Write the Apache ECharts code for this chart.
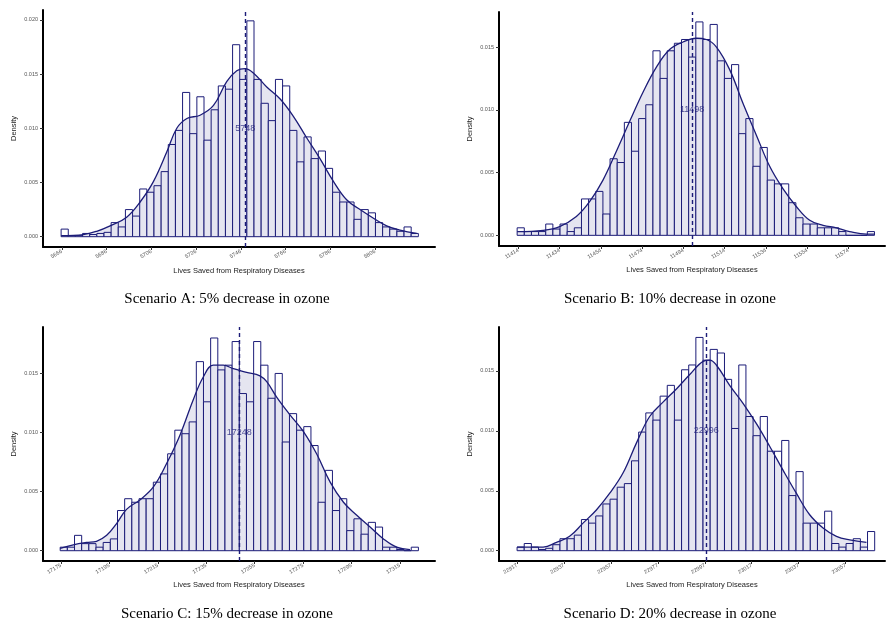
<!DOCTYPE html>
<html>
<head>
<meta charset="utf-8">
<script src="https://cdn.jsdelivr.net/npm/echarts@6/dist/echarts.min.js"></script>
<style>
  html, body { margin: 0; padding: 0; background: #fff; }
  #chart { width: 886px; height: 621px; }
</style>
</head>
<body>
<div id="chart"></div>
<script>
// histogram densities, 50 bins per scenario
const densA = [0.0007, 0.0001, 0.0001, 0.0003, 0.0002, 0.0003, 0.0004, 0.0013, 0.0009, 0.0025,
  0.0019, 0.0044, 0.0041, 0.0047, 0.0060, 0.0085, 0.0098, 0.0133, 0.0095, 0.0129,
  0.0089, 0.0117, 0.0139, 0.0136, 0.0177, 0.0145, 0.0199, 0.0145, 0.0123, 0.0107,
  0.0145, 0.0139, 0.0098, 0.0069, 0.0092, 0.0072, 0.0079, 0.0063, 0.0041, 0.0032,
  0.0032, 0.0016, 0.0025, 0.0022, 0.0013, 0.0009, 0.0007, 0.0005, 0.0009, 0.0003]
const densB = [0.0006, 0.0003, 0.0003, 0.0003, 0.0009, 0.0005, 0.0009, 0.0003, 0.0006, 0.0029,
  0.0029, 0.0035, 0.0017, 0.0061, 0.0058, 0.0090, 0.0067, 0.0093, 0.0104, 0.0147,
  0.0125, 0.0147, 0.0153, 0.0156, 0.0142, 0.0170, 0.0156, 0.0168, 0.0139, 0.0125,
  0.0136, 0.0081, 0.0093, 0.0055, 0.0070, 0.0044, 0.0041, 0.0041, 0.0026, 0.0014,
  0.0009, 0.0009, 0.0006, 0.0006, 0.0006, 0.0003, 0, 0, 0, 0.0003]
const densC = [0.0003, 0.0003, 0.0013, 0.0006, 0.0006, 0.0003, 0.0007, 0.0010, 0.0034, 0.0044,
  0.0041, 0.0044, 0.0044, 0.0058, 0.0065, 0.0082, 0.0102, 0.0099, 0.0109, 0.0160,
  0.0126, 0.0180, 0.0153, 0.0157, 0.0177, 0.0133, 0.0126, 0.0177, 0.0157, 0.0129,
  0.0150, 0.0092, 0.0116, 0.0102, 0.0105, 0.0089, 0.0041, 0.0068, 0.0034, 0.0044,
  0.0017, 0.0027, 0.0014, 0.0024, 0.0020, 0.0003, 0.0003, 0.0001, 0, 0.0003]
const densD = [0.0003, 0.0006, 0.0003, 0.0001, 0.0002, 0.0005, 0.0010, 0.0010, 0.0013, 0.0026,
  0.0023, 0.0029, 0.0039, 0.0043, 0.0053, 0.0056, 0.0075, 0.0099, 0.0115, 0.0109,
  0.0129, 0.0138, 0.0109, 0.0151, 0.0155, 0.0178, 0.0159, 0.0168, 0.0165, 0.0143,
  0.0102, 0.0155, 0.0112, 0.0096, 0.0112, 0.0083, 0.0083, 0.0092, 0.0046, 0.0066,
  0.0023, 0.0023, 0.0023, 0.0033, 0.0006, 0.0003, 0.0006, 0.0010, 0.0003, 0.0016]

// left edge of first bin and bin width
const binStart = [5665.7, 11413.4, 17174.7, 22917]
const binWidth = [3.193, 3.464, 2.959, 3.048]

// kernel density curves [lives saved, density]
const curveA = [[5665.7, 0.0001], [5675.7, 0.0002], [5681.6, 0.0005], [5687.6, 0.0010], [5695.0, 0.0018],
  [5701.0, 0.0032], [5707.0, 0.0051], [5712.9, 0.0078], [5717.4, 0.0100], [5721.9, 0.0109],
  [5727.8, 0.0112], [5733.8, 0.0121], [5739.7, 0.0143], [5744.2, 0.0153], [5747.9, 0.0155],
  [5751.6, 0.0151], [5757.6, 0.0138], [5763.6, 0.0127], [5769.5, 0.0111], [5775.5, 0.0091],
  [5781.4, 0.0072], [5787.4, 0.0051], [5793.3, 0.0034], [5799.3, 0.0025], [5805.3, 0.0017],
  [5811.2, 0.0010], [5817.2, 0.0006], [5824.6, 0.0003]]
const curveB = [[11413.4, 0.0003], [11426, 0.0004], [11434, 0.0007], [11442.1, 0.0015], [11448.6, 0.0027],
  [11455, 0.0044], [11461.5, 0.0067], [11468, 0.0091], [11474.4, 0.0114], [11480.9, 0.0134],
  [11487.3, 0.0148], [11493.8, 0.0154], [11500.3, 0.0157], [11505.1, 0.0156], [11510, 0.0150],
  [11516.4, 0.0132], [11522.9, 0.0105], [11529.3, 0.0080], [11535.8, 0.0055], [11542.3, 0.0037],
  [11548.7, 0.0023], [11555.2, 0.0012], [11561.7, 0.0008], [11568.1, 0.0006], [11574.6, 0.0003],
  [11582.7, 0.0001], [11586.5, 0.0001]]
const curveC = [[17174.7, 0.0002], [17180.1, 0.0005], [17185.6, 0.0007], [17189.7, 0.0008], [17193.9, 0.0013],
  [17198, 0.0023], [17202.1, 0.0035], [17207.6, 0.0043], [17213.2, 0.0054], [17218.7, 0.0074],
  [17224.2, 0.0098], [17229.7, 0.0128], [17233.8, 0.0147], [17237.9, 0.0157], [17242.1, 0.0157],
  [17246.2, 0.0154], [17251.7, 0.0151], [17257.2, 0.0148], [17260, 0.0143], [17264.1, 0.0130],
  [17269.6, 0.0115], [17275.1, 0.0101], [17280.6, 0.0082], [17286.2, 0.0058], [17291.7, 0.0041],
  [17297.2, 0.0030], [17302.7, 0.0020], [17308.2, 0.0010], [17313.7, 0.0003], [17319.2, 0.0001]]
const curveD = [[22917, 0.0003], [22922.4, 0.0003], [22928.1, 0.0003], [22933.8, 0.0007], [22939.4, 0.0012],
  [22945.1, 0.0023], [22950.8, 0.0034], [22956.5, 0.0048], [22962.2, 0.0065], [22967.9, 0.0090],
  [22973.5, 0.0112], [22979.2, 0.0124], [22984.9, 0.0135], [22990.6, 0.0147], [22996.3, 0.0158],
  [22999.1, 0.0159], [23001.9, 0.0155], [23007.6, 0.0138], [23013.3, 0.0123], [23019, 0.0106],
  [23024.7, 0.0087], [23030.4, 0.0067], [23036, 0.0048], [23041.7, 0.0030], [23047.4, 0.0019],
  [23053.1, 0.0012], [23058.8, 0.0009], [23065.9, 0.0007]]

// mean lines and their labels
const meanLine = [5748, 11498.2, 17248.7, 22997.6]
const meanLabel = ['5748', '11498', '17248', '22996']

// tick labels
const xTicksA = [5666, 5686, 5706, 5726, 5746, 5766, 5786, 5806]
const xTicksB = [11414, 11434, 11454, 11474, 11494, 11514, 11534, 11554, 11574]
const xTicksC = [17175, 17195, 17215, 17235, 17255, 17275, 17295, 17315]
const xTicksD = [22917, 22937, 22957, 22977, 22997, 23017, 23037, 23057]
const yTicksA = [0, 0.005, 0.01, 0.015, 0.02]
const yTicksBCD = [0, 0.005, 0.01, 0.015]

const captions = [
  'Scenario A: 5% decrease in ozone',
  'Scenario B: 10% decrease in ozone',
  'Scenario C: 15% decrease in ozone',
  'Scenario D: 20% decrease in ozone'
]

const navy = '#1c1c78'
const fillColor = 'rgba(28, 28, 120, 0.16)'

const dens = [densA, densB, densC, densD]
const curves = [curveA, curveB, curveC, curveD]
const xTicks = [xTicksA, xTicksB, xTicksC, xTicksD]
const yTicks = [yTicksA, yTicksBCD, yTicksBCD, yTicksBCD]

// panel geometry
const panels = [
  { left: 43, top: 10, width: 392, height: 237, xMin: 5657.6, xMax: 5832.8, yMin: -0.00095, yMax: 0.0209, capX: 222, capY: 287 },
  { left: 499, top: 12, width: 386, height: 234, xMin: 11404.6, xMax: 11591.7, yMin: -0.00085, yMax: 0.01779, capX: 665, capY: 287 },
  { left: 43, top: 327, width: 392, height: 234, xMin: 17167.6, xMax: 17329.5, yMin: -0.00087, yMax: 0.01893, capX: 222, capY: 602 },
  { left: 499, top: 327, width: 386, height: 234, xMin: 22909.3, xMax: 23073.8, yMin: -0.00086, yMax: 0.01867, capX: 665, capY: 602 }
]

const myChart = echarts.init(document.getElementById('chart'))

const grid = []
const xAxis = []
const yAxis = []
const series = []
const title = []

panels.forEach((p, i) => {
  grid.push({ left: p.left, top: p.top, width: p.width, height: p.height })
  title.push({
    text: captions[i],
    left: p.capX,
    top: p.capY,
    textAlign: 'center',
    textStyle: { fontFamily: 'Liberation Serif', fontSize: 15, fontWeight: 'normal', color: '#000' }
  })
  xAxis.push({
    type: 'value',
    gridIndex: i,
    min: p.xMin,
    max: p.xMax,
    name: 'Lives Saved from Respiratory Diseases',
    nameLocation: 'middle',
    nameGap: 20,
    nameTextStyle: { fontFamily: 'Liberation Sans', fontSize: 7.5, color: '#222' },
    splitLine: { show: false },
    axisLine: { onZero: false, lineStyle: { color: '#000', width: 2 } },
    axisTick: { customValues: xTicks[i], length: 3, lineStyle: { color: '#333' } },
    axisLabel: {
      customValues: xTicks[i],
      rotate: 30,
      margin: 4,
      fontFamily: 'Liberation Sans',
      fontSize: 5.5,
      color: '#555',
      formatter: v => String(Math.round(v))
    }
  })
  yAxis.push({
    type: 'value',
    gridIndex: i,
    min: p.yMin,
    max: p.yMax,
    name: 'Density',
    nameLocation: 'middle',
    nameGap: 25,
    nameTextStyle: { fontFamily: 'Liberation Sans', fontSize: 7.5, color: '#222' },
    splitLine: { show: false },
    axisLine: { show: true, onZero: false, lineStyle: { color: '#000', width: 2 } },
    axisTick: { show: true, customValues: yTicks[i], length: 3, lineStyle: { color: '#333' } },
    axisLabel: {
      customValues: yTicks[i],
      margin: 5,
      fontFamily: 'Liberation Sans',
      fontSize: 5.5,
      color: '#555',
      formatter: v => v.toFixed(3)
    }
  })

  const barData = dens[i].map((d, k) => [binStart[i] + k * binWidth[i], binStart[i] + (k + 1) * binWidth[i], d])
  series.push({
    type: 'custom',
    xAxisIndex: i,
    yAxisIndex: i,
    z: 2,
    silent: true,
    encode: { x: [0, 1], y: 2 },
    data: barData,
    renderItem: function (params, api) {
      const p0 = api.coord([api.value(0), api.value(2)])
      const p1 = api.coord([api.value(1), 0])
      return {
        type: 'rect',
        shape: { x: p0[0], y: p0[1], width: p1[0] - p0[0], height: p1[1] - p0[1] },
        style: { fill: '#fff', stroke: navy, lineWidth: 1 }
      }
    }
  })
  series.push({
    type: 'line',
    xAxisIndex: i,
    yAxisIndex: i,
    z: 3,
    silent: true,
    smooth: 0.4,
    symbol: 'none',
    data: curves[i],
    lineStyle: { color: navy, width: 1.3 },
    areaStyle: { color: fillColor },
    markLine: {
      silent: true,
      symbol: ['none', 'none'],
      label: { show: false },
      lineStyle: { color: navy, width: 1.4, type: [4, 3] },
      data: [{ xAxis: meanLine[i] }]
    }
  })
  series.push({
    type: 'scatter',
    xAxisIndex: i,
    yAxisIndex: i,
    z: 5,
    silent: true,
    symbolSize: 0,
    data: [[meanLine[i], 0.010]],
    label: {
      show: true,
      position: 'inside',
      formatter: meanLabel[i],
      fontFamily: 'Liberation Sans',
      fontSize: 9,
      color: navy
    }
  })
})

myChart.setOption({
  animation: false,
  backgroundColor: '#fff',
  title: title,
  grid: grid,
  xAxis: xAxis,
  yAxis: yAxis,
  series: series
})
</script>
</body>
</html>
